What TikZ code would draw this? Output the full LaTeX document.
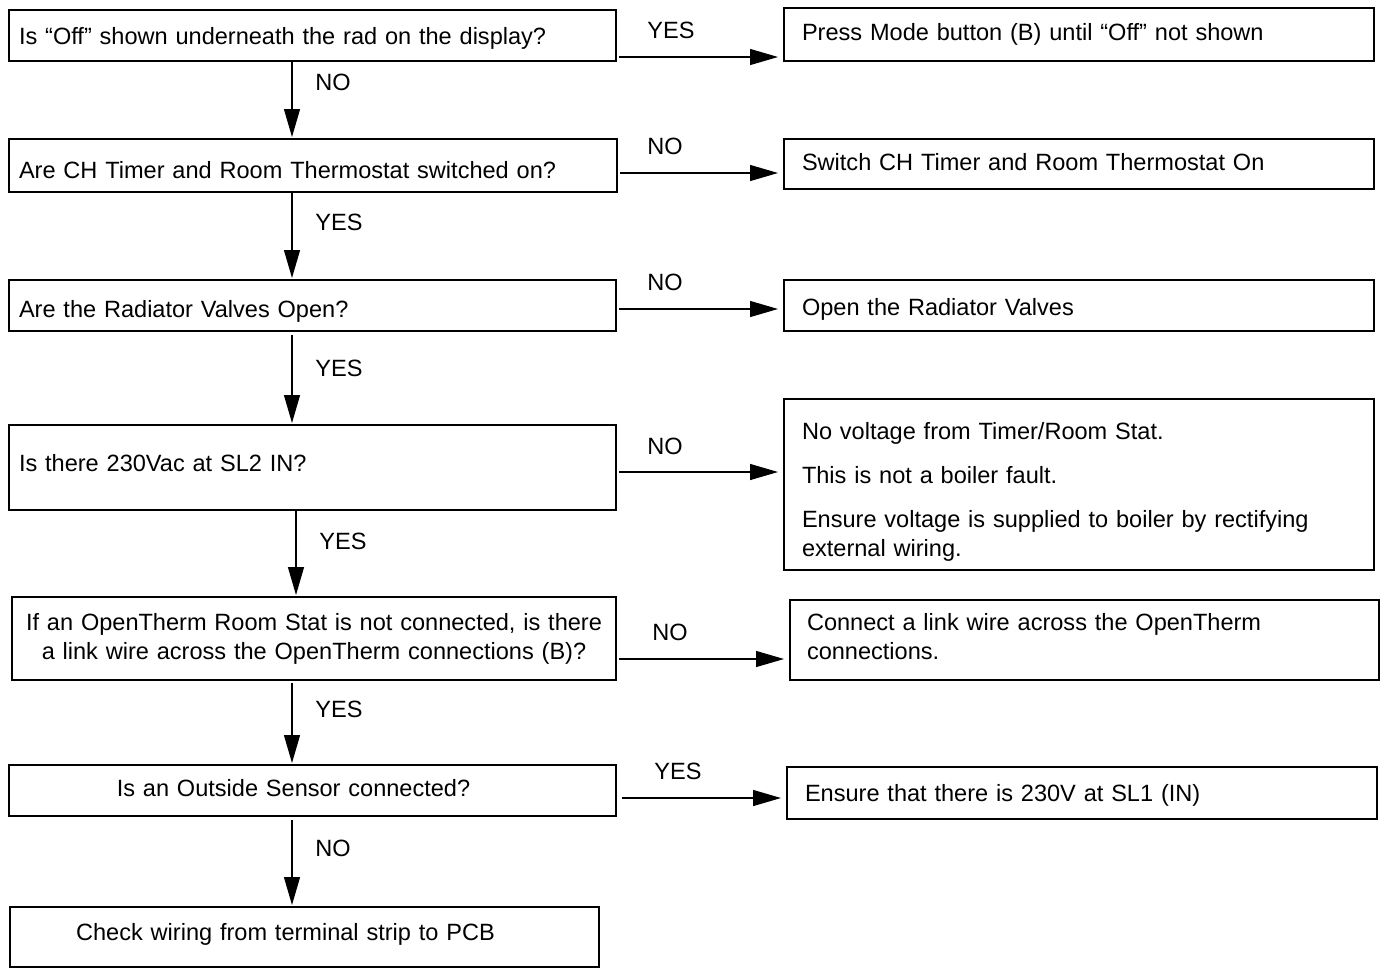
\documentclass[tikz,border=0pt]{standalone}
\usepackage{fontspec}
\setmainfont{Liberation Sans}
\usetikzlibrary{positioning,arrows.meta}
\begin{document}
\begin{tikzpicture}[x=1pt,y=-1pt,>={Triangle[length=28pt,width=16pt]},
  box/.style={draw,line width=1.3pt,anchor=north west,inner xsep=10pt,inner ysep=0pt,outer sep=0pt,align=left,text height=17pt,text depth=5pt,font=\fontsize{23.55}{29}\selectfont},
  rbox/.style={box,inner xsep=18pt},
  cbox/.style={box,align=center},
  lbl/.style={font=\fontsize{23.55}{29}\selectfont,inner sep=0pt},
  flow/.style={->,line width=1.3pt},
  hflow/.style={flow,shorten <=3pt,shorten >=6pt},
  vflow/.style={flow,shorten >=2pt}]
\useasboundingbox (0,0) rectangle (1383,977);
\node[box,text width=587pt,minimum height=51pt,text height=23pt] (q1) at (9,10) {Is “Off” shown underneath the rad on the display?};
\node[box,text width=588pt,minimum height=53pt,text height=30pt] (q2) at (9,139) {Are CH Timer and Room Thermostat switched on?};
\node[box,text width=587pt,minimum height=51pt,text height=29pt] (q3) at (9,280) {Are the Radiator Valves Open?};
\node[box,text width=587pt,minimum height=85pt,text depth=10pt] (q4) at (9,425) {Is there 230Vac at SL2 IN?};
\node[cbox,text width=584pt,minimum height=83pt,text height={},text depth={}] (q5) at (12,597) {If an OpenTherm Room Stat is not connected, is there\\a link wire across the OpenTherm connections (B)?};
\node[cbox,text width=587pt,minimum height=51pt] (q6) at (9,765) {Is an Outside Sensor connected?\kern38pt};
\node[cbox,text width=569pt,minimum height=60pt,text depth=11pt] (q7) at (10,907) {Check wiring from terminal strip to PCB\kern38pt};

\node[rbox,text width=554pt,minimum height=53pt] (a1) at (784,8) {Press Mode button (B) until “Off” not shown};
\node[rbox,text width=554pt,minimum height=50pt] (a2) at (784,139) {Switch CH Timer and Room Thermostat On};
\node[rbox,text width=554pt,minimum height=51pt,text height=25pt] (a3) at (784,280) {Open the Radiator Valves};
\node[rbox,text width=554pt,minimum height=171pt,text height=31pt,text depth={}] (a4) at (784,399) {No voltage from Timer/Room Stat.\\[15pt]This is not a boiler fault.\\[15pt]Ensure voltage is supplied to boiler by rectifying\\external wiring.};
\node[rbox,inner xsep=17pt,text width=555pt,minimum height=80pt,text height=11pt,text depth={}] (a5) at (790,600) {Connect a link wire across the OpenTherm\\connections.};
\node[rbox,text width=554pt,minimum height=52pt,text height=21pt] (a6) at (787,767) {Ensure that there is 230V at SL1 (IN)};

\draw[hflow] (q1.east |- 0,57) -- (a1.west |- 0,57) node[lbl] (n1) at (671,30) {YES};
\draw[hflow] (q2.east |- 0,173) -- (a2.west |- 0,173) node[lbl] (n2) at (665,146) {NO};
\draw[hflow] (q3.east |- 0,309) -- (a3.west |- 0,309) node[lbl] (n3) at (665,282) {NO};
\draw[hflow] (q4.east |- 0,472) -- (a4.west |- 0,472) node[lbl] (n4) at (665,446) {NO};
\draw[hflow] (q5.east |- 0,659) -- (a5.west |- 0,659) node[lbl] (n5) at (670,632) {NO};
\draw[hflow,shorten <=6pt] (q6.east |- 0,798) -- (a6.west |- 0,798) node[lbl] (n6) at (678,771) {YES};

\draw[vflow] (q1.south -| 292,0) -- (q2.north -| 292,0) node[lbl] (n7) at (333,82) {NO};
\draw[vflow] (q2.south -| 292,0) -- (q3.north -| 292,0) node[lbl] (n8) at (339,222) {YES};
\draw[vflow,shorten <=4pt] (q3.south -| 292,0) -- (q4.north -| 292,0) node[lbl] (n9) at (339,368) {YES};
\draw[vflow] (q4.south -| 296,0) -- (q5.north -| 296,0) node[lbl] (n10) at (343,541) {YES};
\draw[vflow,shorten <=3pt] (q5.south -| 292,0) -- (q6.north -| 292,0) node[lbl] (n11) at (339,709) {YES};
\draw[vflow,shorten <=4pt] (q6.south -| 292,0) -- (q7.north -| 292,0) node[lbl] (n12) at (333,848) {NO};
\end{tikzpicture}
\end{document}
